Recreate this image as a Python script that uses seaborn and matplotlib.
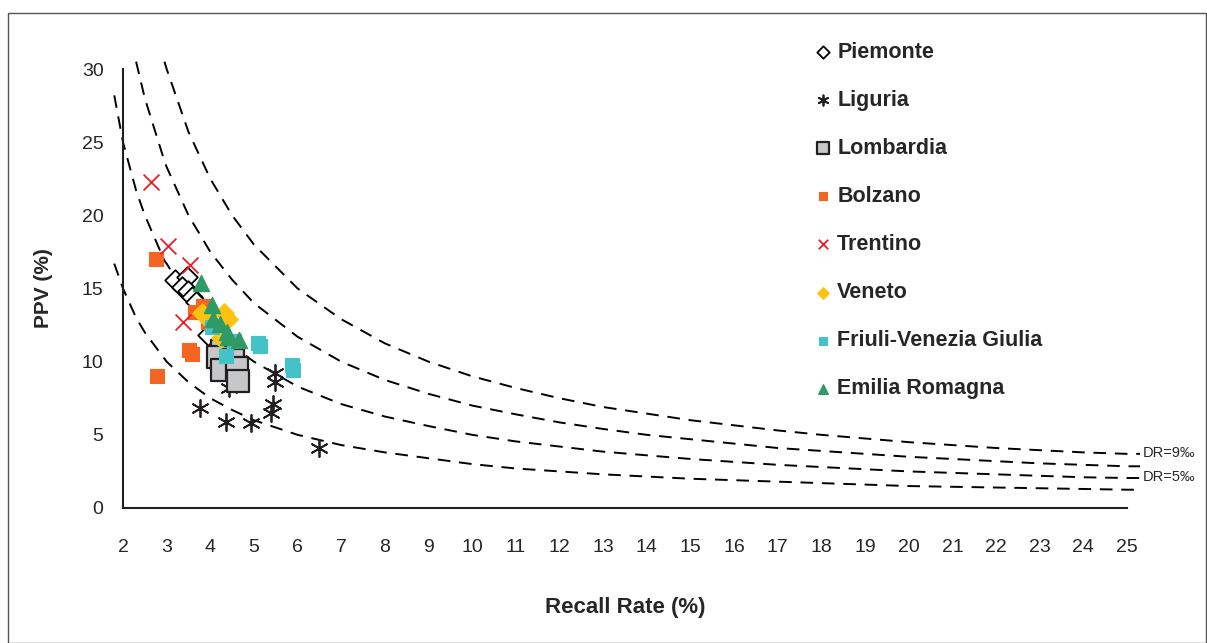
import matplotlib
matplotlib.use('Agg')
import matplotlib.pyplot as plt
import seaborn as sns
import numpy as np
from matplotlib.patches import Rectangle

sns.set_style('white')
plt.rcParams['font.family'] = ['Liberation Sans', 'DejaVu Sans']

# Region data: recall rate (%) and PPV (%)
piemonte_rr = [3.19, 3.47, 3.35, 3.49, 3.58, 3.67, 3.95]
piemonte_ppv = [15.6, 15.8, 15.1, 14.8, 14.4, 14.1, 11.8]

liguria_rr = [3.76, 4.36, 4.93, 5.44, 5.38, 5.48, 5.48, 4.43, 6.5]
liguria_ppv = [6.8, 5.9, 5.8, 7.1, 6.5, 8.6, 9.2, 8.2, 4.1]

lombardia_rr = [4.27, 4.18, 4.52, 4.27, 4.61, 4.63]
lombardia_ppv = [10.7, 10.3, 10.1, 9.45, 9.6, 8.7]

bolzano_rr = [2.75, 2.78, 3.52, 3.57, 3.65, 3.84, 3.95]
bolzano_ppv = [17.0, 9.0, 10.8, 10.5, 13.4, 13.8, 12.7]

trentino_rr = [2.64, 3.02, 3.53, 3.37]
trentino_ppv = [22.3, 17.9, 16.6, 12.7]

veneto_rr = [3.8, 4.32, 4.4, 3.95, 4.25]
veneto_ppv = [13.3, 13.3, 12.9, 12.9, 11.6]

friuli_rr = [5.1, 5.14, 5.88, 5.9, 4.37, 4.05, 4.55]
friuli_ppv = [11.3, 11.1, 9.8, 9.4, 10.4, 12.4, 11.4]

emilia_rr = [3.78, 4.03, 4.07, 4.22, 4.38, 4.65, 4.4]
emilia_ppv = [15.4, 13.9, 12.9, 12.6, 12.0, 11.5, 11.7]

# Iso detection-rate reference curves
curve_rr = [1.8, 2, 2.3, 2.5, 2.95, 3, 3.5, 4, 4.5, 5, 6, 7, 8, 9, 10, 11, 12,
            13, 14, 15, 16, 17, 18, 19, 20, 21, 22, 23, 24, 25, 25.3]
dr3_ppv = [16.7, 15.0, 13.0, 12.0, 10.2, 10.0, 8.6, 7.5, 6.7, 6.0, 5.0, 4.3, 3.8, 3.4, 3.0, 2.7, 2.5,
           2.3, 2.15, 2.0, 1.9, 1.8, 1.7, 1.6, 1.5, 1.45, 1.4, 1.35, 1.3, 1.25, 1.25]
dr5_ppv = [28.2, 25.0, 21.7, 20.0, 16.9, 16.7, 14.3, 12.5, 11.1, 10.0, 8.3, 7.1, 6.25, 5.6, 5.0, 4.55, 4.2,
           3.85, 3.6, 3.35, 3.15, 2.95, 2.8, 2.65, 2.5, 2.4, 2.3, 2.2, 2.1, 2.05, 2.05]
dr7_ppv = [np.nan, np.nan, 30.5, 28.0, 23.7, 23.3, 20.0, 17.5, 15.6, 14.0, 11.7, 10.0, 8.75, 7.8, 7.0, 6.4, 5.85,
           5.4, 5.0, 4.7, 4.4, 4.1, 3.9, 3.7, 3.5, 3.35, 3.2, 3.05, 2.95, 2.85, 2.85]
dr9_ppv = [np.nan, np.nan, np.nan, np.nan, 30.5, 30.0, 25.7, 22.5, 20.0, 18.0, 15.0, 12.9, 11.25, 10.0, 9.0, 8.2, 7.5,
           6.9, 6.45, 6.0, 5.65, 5.3, 5.0, 4.75, 4.5, 4.3, 4.1, 3.95, 3.8, 3.7, 3.7]

fig = plt.figure(figsize=(12.07, 6.43), dpi=100)
ax = fig.add_axes([123 / 1207, 1 - 508 / 643, (1127 - 123) / 1207, (508 - 69) / 643])

# outer frame
fig.patches.append(Rectangle((8 / 1207, 0.5 / 643), 1197.5 / 1207, 630 / 643,
                             transform=fig.transFigure, fill=False,
                             edgecolor='#555555', linewidth=1.0))

for ppv in [dr3_ppv, dr5_ppv, dr7_ppv, dr9_ppv]:
    sns.lineplot(x=curve_rr, y=ppv, ax=ax, color='black', linewidth=1.4,
                 linestyle=(0, (6.5, 4.5)), sort=False, estimator=None, clip_on=False)

# scatter series
sns.scatterplot(x=piemonte_rr, y=piemonte_ppv, ax=ax, marker='D', s=110,
                facecolor='white', edgecolor='black', linewidth=1.3, label='Piemonte', zorder=3)
sns.scatterplot(x=liguria_rr, y=liguria_ppv, ax=ax, marker=(6, 2, 0), s=150,
                color='#231f20', linewidth=1.3, label='Liguria', zorder=3)
sns.scatterplot(x=lombardia_rr, y=lombardia_ppv, ax=ax, marker='s', s=230,
                facecolor='#c6c7c9', edgecolor='#231f20', linewidth=1.6, label='Lombardia', zorder=3)
sns.scatterplot(x=bolzano_rr, y=bolzano_ppv, ax=ax, marker='s', s=95,
                color='#f26522', edgecolor='#f26522', label='Bolzano', zorder=3)
sns.scatterplot(x=trentino_rr, y=trentino_ppv, ax=ax, marker='x', s=130,
                color='#ed1c24', linewidth=1.3, label='Trentino', zorder=3)
sns.scatterplot(x=veneto_rr, y=veneto_ppv, ax=ax, marker='D', s=100,
                color='#ffc20e', edgecolor='#ffc20e', label='Veneto', zorder=3)
sns.scatterplot(x=friuli_rr, y=friuli_ppv, ax=ax, marker='s', s=105,
                color='#45c2c8', edgecolor='#45c2c8', label='Friuli-Venezia Giulia', zorder=3)
sns.scatterplot(x=emilia_rr, y=emilia_ppv, ax=ax, marker='^', s=135,
                color='#2e9a66', edgecolor='#2e9a66', label='Emilia Romagna', zorder=3)

ax.set_xlim(2, 25)
ax.set_ylim(0, 30)
ax.set_xticks(range(2, 26))
ax.set_yticks(range(0, 31, 5))
for side in ['top', 'right']:
    ax.spines[side].set_visible(False)
for side in ['left', 'bottom']:
    ax.spines[side].set_color('#231f20')
    ax.spines[side].set_linewidth(1.5)
ax.tick_params(axis='x', direction='out', length=6, width=1.5, pad=16, labelsize=14, color='#231f20')
ax.tick_params(axis='y', direction='out', length=6, width=1.5, pad=8, labelsize=14, color='#231f20')
ax.grid(False)

ax.set_xlabel('Recall Rate (%)', fontsize=16, fontweight='bold', labelpad=30)
ax.set_ylabel('PPV (%)', fontsize=15, fontweight='bold', labelpad=21)

ax.text(25.37, 3.77, 'DR=9‰', fontsize=10.5, va='center', ha='left', clip_on=False)
ax.text(25.37, 2.1, 'DR=5‰', fontsize=10.5, va='center', ha='left', clip_on=False)

leg = ax.legend(loc='upper left', bbox_to_anchor=(806 / 1207, 1 - 33 / 643),
                bbox_transform=fig.transFigure, frameon=False, markerscale=0.6,
                prop={'size': 15.5, 'weight': 'bold'}, labelspacing=1.26,
                handlelength=0.8, handletextpad=0.25, borderaxespad=0)

fig.savefig('out.png', dpi=100)
